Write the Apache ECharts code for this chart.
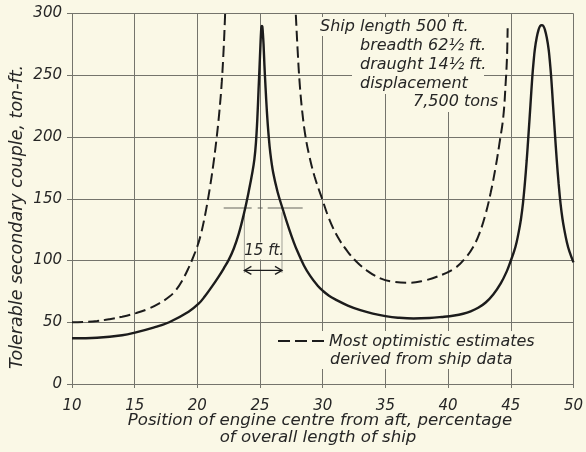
<!DOCTYPE html>
<html>
<head>
<meta charset="utf-8">
<script src="https://cdn.jsdelivr.net/npm/echarts@6/dist/echarts.min.js"></script>
<style>
  html, body { margin: 0; padding: 0; background: #faf8e6; }
  #chart { width: 586px; height: 452px; }
</style>
</head>
<body>
<div id="chart"></div>
<script>
// Engine position (% of overall length from aft) vs tolerable secondary couple (ton-ft)
const xTickLabels = ['10', '15', '20', '25', '30', '35', '40', '45', '50'];
const yTickLabels = ['0', '50', '100', '150', '200', '250', '300'];

// Calculated tolerable couple (solid curve)
const calculated = [
  [10, 37], [12, 37.5], [14, 39.5], [15.1, 41.8], [16.5, 45.6], [17.75, 50],
  [19.3, 58.5], [20.1, 65], [20.6, 71], [21.1, 78], [21.7, 87], [22.1, 93.5],
  [22.5, 100.5], [22.9, 109.5], [23.3, 121.5], [23.74, 139], [24.1, 156],
  [24.4, 172], [24.55, 182], [24.67, 195], [24.78, 214], [24.88, 238],
  [24.96, 257], [25.03, 274], [25.08, 285], [25.12, 289.5], [25.15, 290],
  [25.18, 289.5], [25.22, 285], [25.28, 275], [25.35, 258], [25.44, 240],
  [25.55, 220], [25.67, 203], [25.82, 187], [26.05, 171], [26.4, 155.5],
  [26.8, 142], [27.3, 126], [27.7, 114.5], [28, 107], [28.5, 96], [29, 87.5],
  [29.6, 79.5], [30, 75.5], [30.5, 71.5], [31, 68.5], [32, 63.5], [33, 59.8],
  [34, 57], [35, 55], [36, 53.7], [37.25, 53], [38.5, 53.4], [39.5, 54.3],
  [40.5, 55.5], [41.2, 56.9], [41.8, 58.8], [42.4, 61.7], [43, 66],
  [43.6, 72.5], [44.2, 81.5], [44.67, 91], [44.97, 99], [45.27, 107.5],
  [45.47, 115], [45.67, 125], [45.82, 134], [45.97, 146], [46.12, 162],
  [46.27, 181], [46.42, 203], [46.57, 226], [46.72, 249], [46.82, 261],
  [46.92, 271], [47.07, 280.5], [47.22, 287], [47.35, 290], [47.47, 290.5],
  [47.59, 290], [47.72, 287], [47.87, 280.5], [48.02, 271], [48.12, 261],
  [48.22, 249], [48.37, 226], [48.52, 203], [48.67, 181], [48.82, 162],
  [48.97, 146], [49.12, 134], [49.27, 125], [49.47, 115], [49.67, 107.5],
  [50, 98.5]
];

// Most optimistic estimates derived from ship data (dashed curve)
const optimistic = [
  [10, 50], [11, 50.3], [12, 51], [13, 52.5], [14, 54.5], [15.1, 57.4],
  [16, 60.5], [17, 65.5], [17.75, 70.6], [18.25, 75.5], [18.75, 83],
  [19.3, 94], [19.7, 103.5], [20, 111.5], [20.25, 120], [20.5, 131],
  [20.75, 144], [21, 159], [21.25, 176], [21.5, 196], [21.75, 220],
  [21.95, 245], [22.1, 272], [22.2, 296], [22.25, 312],
  null,
  [27.8, 312], [27.85, 300], [28, 270], [28.15, 245], [28.35, 222],
  [28.6, 202], [28.9, 186], [29.35, 168], [29.95, 150], [30.5, 134],
  [31.2, 119], [32, 107], [32.6, 100], [33.5, 92], [34.6, 85.5], [35.5, 83],
  [37, 82], [38, 83.5], [39.1, 86.8], [40.5, 93.5], [41.3, 101], [42, 111],
  [42.5, 122], [43, 138], [43.4, 155], [43.8, 176], [44.1, 195], [44.4, 216],
  [44.6, 245], [44.7, 265], [44.75, 288]
];

// Width marker: half-height line and 15 ft. span (3 % of 500 ft.)
const halfLine = [[22.1, 142.5], [28.4, 142.5]];
const spanEnds = [23.75, 26.75];
const spanLevel = 92;
const spanTop = 139;

const PAPER = '#faf8e6';
const INK = '#1c1c1c';
const GRIDC = '#74746c';
const FONT = 'DejaVu Sans';

const chart = echarts.init(document.getElementById('chart'), null, { renderer: 'canvas' });

const txt = (o) => Object.assign({
  fontFamily: FONT, fontStyle: 'italic', fontSize: 16, fill: '#262626'
}, o);

chart.setOption({
  backgroundColor: PAPER,
  animation: false,
  grid: { left: 72, right: 8, top: 13.5, bottom: 68, containLabel: false },
  xAxis: {
    type: 'value', min: 10, max: 50, interval: 5,
    axisLine: { show: false },
    axisTick: { show: true, inside: false, length: 4, lineStyle: { color: GRIDC, width: 1 } },
    splitLine: { show: true, lineStyle: { color: GRIDC, width: 1 } },
    axisLabel: {
      margin: 15, fontFamily: FONT, fontStyle: 'italic', fontSize: 15, color: '#262626',
      formatter: (v) => xTickLabels[Math.round((v - 10) / 5)]
    }
  },
  yAxis: {
    type: 'value', min: 0, max: 300, interval: 50,
    axisLine: { show: false },
    axisTick: { show: true, inside: false, length: 5, lineStyle: { color: GRIDC, width: 1 } },
    splitLine: { show: true, lineStyle: { color: GRIDC, width: 1 } },
    axisLabel: {
      margin: 10, fontFamily: FONT, fontStyle: 'italic', fontSize: 15, color: '#262626',
      formatter: (v) => yTickLabels[Math.round(v / 50)]
    }
  },
  series: [
    {
      name: 'calculated', type: 'line', data: calculated, z: 4,
      smooth: 0.4, showSymbol: false, clip: true,
      lineStyle: { color: INK, width: 2.4 }
    },
    {
      name: 'optimistic', type: 'line', data: optimistic, z: 4,
      smooth: 0.4, showSymbol: false, connectNulls: false, clip: true,
      lineStyle: { color: INK, width: 2, type: [11, 5] }
    },
    {
      name: 'half line', type: 'line', data: halfLine, z: 3,
      showSymbol: false, silent: true,
      lineStyle: { color: '#55554f', width: 0.9, type: [28, 6, 5, 5, 60] }
    },
    {
      name: 'span left', type: 'line', z: 3, showSymbol: false, silent: true,
      data: [[spanEnds[0], spanTop], [spanEnds[0], spanLevel - 2]],
      lineStyle: { color: '#8a8a82', width: 0.8 }
    },
    {
      name: 'span right', type: 'line', z: 3, showSymbol: false, silent: true,
      data: [[spanEnds[1], spanTop], [spanEnds[1], spanLevel - 2]],
      lineStyle: { color: '#8a8a82', width: 0.8 }
    }
  ]
});

// Annotation overlays positioned through the chart's own coordinate system
const px = (p) => chart.convertToPixel({ gridIndex: 0 }, p);
const a = px([spanEnds[0], spanLevel]);
const b = px([spanEnds[1], spanLevel]);
const ah = 5;

chart.setOption({
  graphic: [
    // paper masks keeping grid lines clear behind lettering
    { type: 'rect', z: 1, shape: { x: 316, y: 17, width: 166, height: 19 }, style: { fill: PAPER } },
    { type: 'rect', z: 1, shape: { x: 352, y: 36, width: 132, height: 58 }, style: { fill: PAPER } },
    { type: 'rect', z: 1, shape: { x: 408, y: 92, width: 92, height: 20 }, style: { fill: PAPER } },
    { type: 'rect', z: 1, shape: { x: 276, y: 331, width: 262, height: 38 }, style: { fill: PAPER } },
    { type: 'rect', z: 1, shape: { x: (a[0] + b[0]) / 2 - 17, y: a[1] - 28, width: 36, height: 17 }, style: { fill: PAPER } },

    // ship particulars
    { type: 'text', z: 6, style: txt({ x: 320, y: 27, text: 'Ship length 500 ft.', textVerticalAlign: 'middle' }) },
    { type: 'text', z: 6, style: txt({ x: 360, y: 46, text: 'breadth 62½ ft.', textVerticalAlign: 'middle' }) },
    { type: 'text', z: 6, style: txt({ x: 360, y: 65, text: 'draught 14½ ft.', textVerticalAlign: 'middle' }) },
    { type: 'text', z: 6, style: txt({ x: 360, y: 84, text: 'displacement', textVerticalAlign: 'middle' }) },
    { type: 'text', z: 6, style: txt({ x: 413, y: 102, text: '7,500 tons', textVerticalAlign: 'middle' }) },

    // legend for the dashed curve
    { type: 'line', z: 6, shape: { x1: 278, y1: 341, x2: 327, y2: 341 },
      style: { stroke: INK, lineWidth: 2, lineDash: [12, 5] } },
    { type: 'text', z: 6, style: txt({ x: 329, y: 342, text: 'Most optimistic estimates', textVerticalAlign: 'middle' }) },
    { type: 'text', z: 6, style: txt({ x: 330, y: 360, text: 'derived from ship data', textVerticalAlign: 'middle' }) },

    // 15 ft. span arrow
    { type: 'line', z: 6, shape: { x1: a[0], y1: a[1], x2: b[0], y2: b[1] }, style: { stroke: INK, lineWidth: 1.2 } },
    { type: 'polyline', z: 6, shape: { points: [[a[0] + ah + 2, a[1] - ah + 1], [a[0], a[1]], [a[0] + ah + 2, a[1] + ah - 1]] },
      style: { stroke: INK, lineWidth: 1.3, fill: null } },
    { type: 'polyline', z: 6, shape: { points: [[b[0] - ah - 2, b[1] - ah + 1], [b[0], b[1]], [b[0] - ah - 2, b[1] + ah - 1]] },
      style: { stroke: INK, lineWidth: 1.3, fill: null } },
    { type: 'text', z: 6, style: txt({ x: (a[0] + b[0]) / 2 + 1, y: a[1] - 19, text: '15 ft.', fontSize: 15, textAlign: 'center', textVerticalAlign: 'middle' }) },

    // axis titles
    { type: 'text', z: 6, rotation: Math.PI / 2, x: 17, y: 217,
      style: txt({ text: 'Tolerable secondary couple, ton-ft.', fontSize: 17.5, textAlign: 'center', textVerticalAlign: 'middle' }) },
    { type: 'text', z: 6, style: txt({ x: 320, y: 421, text: 'Position of engine centre from aft, percentage', fontSize: 16.6, textAlign: 'center', textVerticalAlign: 'middle' }) },
    { type: 'text', z: 6, style: txt({ x: 318, y: 438, text: 'of overall length of ship', fontSize: 16.6, textAlign: 'center', textVerticalAlign: 'middle' }) }
  ]
});
</script>
</body>
</html>
